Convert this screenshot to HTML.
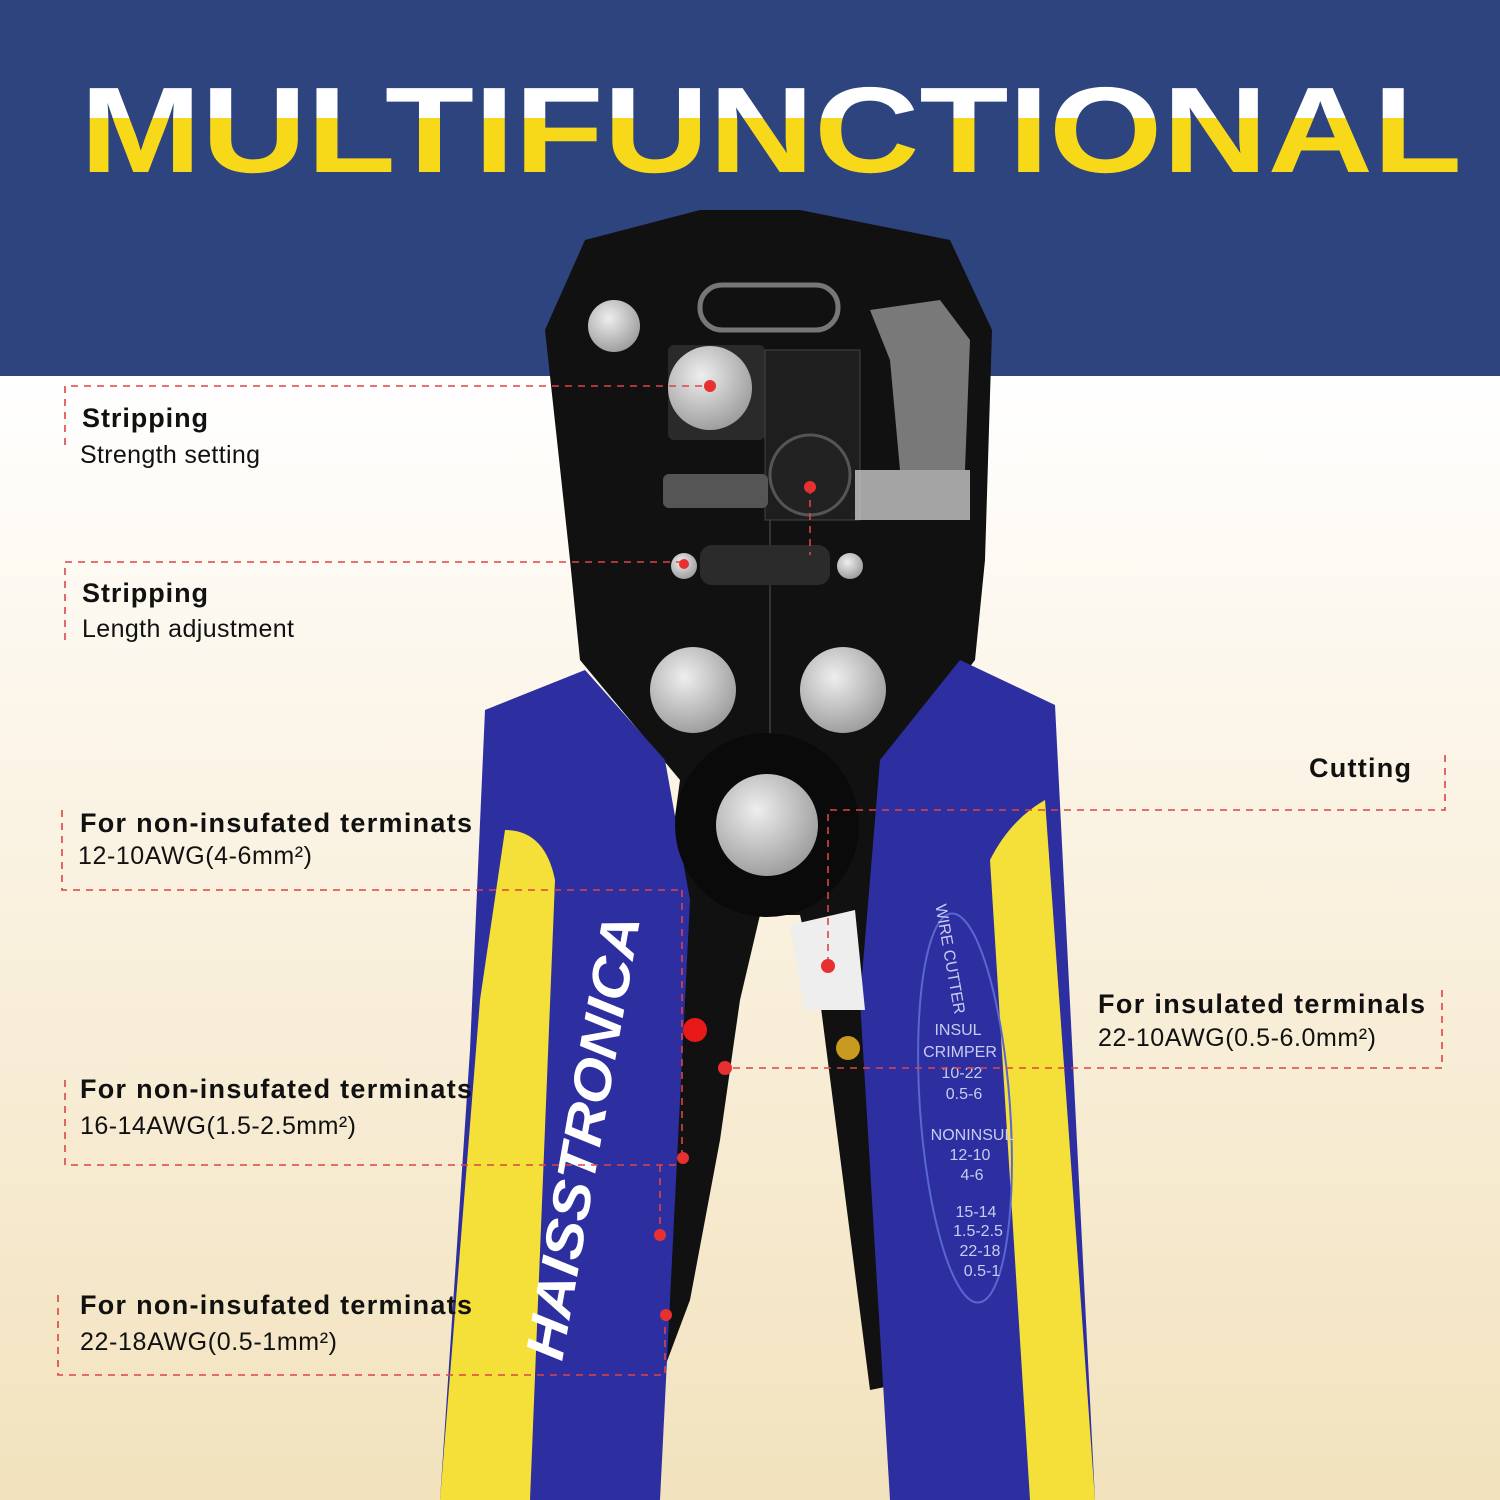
<!DOCTYPE html>
<html><head><meta charset="utf-8"><style>
html,body{margin:0;padding:0;width:1500px;height:1500px;overflow:hidden}
svg{display:block}
text{font-family:"Liberation Sans",sans-serif}
</style></head><body>
<svg width="1500" height="1500" viewBox="0 0 1500 1500" xmlns="http://www.w3.org/2000/svg">
<defs>
<linearGradient id="bg" x1="0" y1="0" x2="0" y2="1">
<stop offset="0" stop-color="#ffffff"/><stop offset="0.35" stop-color="#fbf4e6"/><stop offset="1" stop-color="#f2e2bd"/>
</linearGradient>
<linearGradient id="tt" x1="0" y1="82" x2="0" y2="172" gradientUnits="userSpaceOnUse">
<stop offset="0" stop-color="#ffffff"/><stop offset="0.4" stop-color="#ffffff"/><stop offset="0.4" stop-color="#f7d91a"/><stop offset="1" stop-color="#f7d91a"/>
</linearGradient>
<radialGradient id="met" cx="0.4" cy="0.35" r="0.7"><stop offset="0" stop-color="#eeeeee"/><stop offset="1" stop-color="#9a9a9a"/></radialGradient>
</defs>
<rect x="0" y="375" width="1500" height="1125" fill="url(#bg)"/>
<rect x="0" y="0" width="1500" height="376" fill="#2e447e"/>
<text x="80" y="172" font-size="122" font-weight="900" fill="url(#tt)" textLength="1382" lengthAdjust="spacingAndGlyphs">MULTIFUNCTIONAL</text>

<!-- head -->
<path d="M545,330 L585,240 L700,210 L800,210 L950,240 L992,330 L985,560 L975,660 L900,760 L880,1000 L920,1380 L870,1390 L820,1000 L800,915 L760,915 L740,1000 L720,1140 L690,1300 L660,1380 L650,1000 L680,780 L580,660 L570,560 Z" fill="#111"/>
<line x1="770" y1="520" x2="770" y2="900" stroke="#333" stroke-width="2"/>
<!-- left handle -->
<path d="M485,710 L585,670 L665,760 L690,900 L660,1500 L440,1500 L470,1050 Z" fill="#2d2fa0"/>
<path d="M505,830 Q545,830 555,880 L530,1500 L440,1500 L480,1000 Z" fill="#f5e03a"/>
<!-- right handle -->
<path d="M960,660 L1055,705 L1095,1500 L890,1500 L860,1000 L880,760 Z" fill="#2d2fa0"/>
<path d="M1045,800 L1095,1500 L1030,1500 L990,860 Q1010,820 1045,800 Z" fill="#f5e03a"/>
<ellipse cx="965" cy="1108" rx="45" ry="195" transform="rotate(-4 965 1108)" fill="none" stroke="#5a67d0" stroke-width="2"/>
<text transform="translate(562,1362) rotate(-80)" font-size="54" font-weight="900" font-style="italic" fill="#fff" textLength="450" lengthAdjust="spacingAndGlyphs">HAISSTRONICA</text>
<g font-size="16" fill="#c8ccf0" text-anchor="middle">
<text x="958" y="1035">INSUL</text><text x="960" y="1057">CRIMPER</text><text x="962" y="1078">10-22</text><text x="964" y="1099">0.5-6</text>
<text x="972" y="1140">NONINSUL</text><text x="970" y="1160">12-10</text><text x="972" y="1180">4-6</text>
<text x="976" y="1217">15-14</text><text x="978" y="1236">1.5-2.5</text><text x="980" y="1256">22-18</text><text x="982" y="1276">0.5-1</text>
<text x="945" y="960" transform="rotate(80 945 960)">WIRE CUTTER</text>
</g>
<!-- parts -->
<rect x="700" y="285" width="138" height="45" rx="22" fill="none" stroke="#777" stroke-width="5"/>
<circle cx="614" cy="326" r="26" fill="url(#met)"/>
<rect x="668" y="345" width="97" height="95" rx="6" fill="#2a2a2a"/>
<circle cx="710" cy="388" r="42" fill="url(#met)"/>
<rect x="765" y="350" width="95" height="170" fill="#1e1e1e" stroke="#444"/>
<circle cx="810" cy="475" r="40" fill="#222" stroke="#555" stroke-width="3"/>
<rect x="663" y="474" width="105" height="34" rx="6" fill="#555"/>
<rect x="855" y="470" width="115" height="50" fill="#c9c9c9" opacity="0.8"/>
<path d="M870,310 L940,300 L970,340 L965,470 L900,470 L890,360 Z" fill="#cfcfcf" opacity="0.55"/>
<rect x="700" y="545" width="130" height="40" rx="12" fill="#2b2b2b"/>
<circle cx="684" cy="566" r="13" fill="url(#met)"/><circle cx="850" cy="566" r="13" fill="url(#met)"/>
<circle cx="693" cy="690" r="43" fill="url(#met)"/><circle cx="843" cy="690" r="43" fill="url(#met)"/>
<circle cx="767" cy="825" r="92" fill="#0a0a0a"/>
<circle cx="767" cy="825" r="51" fill="url(#met)"/>
<path d="M790,925 L855,910 L865,1010 L805,1010 Z" fill="#eee"/>
<circle cx="695" cy="1030" r="12" fill="#e81919"/><circle cx="848" cy="1048" r="12" fill="#c99a20"/>
<!-- dashed lines -->
<g stroke="#d44" stroke-width="1.6" stroke-dasharray="7,6" fill="none">
<path d="M65,445 L65,386 L710,386"/>
<path d="M65,640 L65,562 L684,562"/>
<path d="M810,487 L810,555"/>
<path d="M62,810 L62,890 L680,890"/>
<path d="M65,1080 L65,1165 L680,1165"/>
<path d="M58,1295 L58,1375 L665,1375 L665,1315"/>
<path d="M1445,755 L1445,810 L828,810 L828,965"/>
<path d="M1442,990 L1442,1068 L725,1068"/>
<path d="M682,890 L682,1160"/><path d="M660,1165 L660,1235"/>
</g>
<g fill="#e83030">
<circle cx="710" cy="386" r="6"/><circle cx="810" cy="487" r="6"/><circle cx="684" cy="564" r="5"/>
<circle cx="828" cy="966" r="7"/><circle cx="725" cy="1068" r="7"/><circle cx="683" cy="1158" r="6"/>
<circle cx="660" cy="1235" r="6"/><circle cx="666" cy="1315" r="6"/>
</g>
<!-- labels -->
<g font-size="27" fill="#111" lengthAdjust="spacingAndGlyphs">
<text x="82" y="427" font-weight="bold" textLength="126">Stripping</text>
<text x="80" y="463" font-size="25" textLength="180">Strength setting</text>
<text x="82" y="602" font-weight="bold" textLength="126">Stripping</text>
<text x="82" y="637" font-size="25" textLength="212">Length adjustment</text>
<text x="1309" y="777" font-weight="bold" textLength="102">Cutting</text>
<text x="80" y="832" font-weight="bold" textLength="392">For non-insufated terminats</text>
<text x="78" y="864" font-size="25" textLength="234">12-10AWG(4-6mm²)</text>
<text x="1098" y="1013" font-weight="bold" textLength="327">For insulated terminals</text>
<text x="1098" y="1046" font-size="25" textLength="278">22-10AWG(0.5-6.0mm²)</text>
<text x="80" y="1098" font-weight="bold" textLength="392">For non-insufated terminats</text>
<text x="80" y="1134" font-size="25" textLength="276">16-14AWG(1.5-2.5mm²)</text>
<text x="80" y="1314" font-weight="bold" textLength="392">For non-insufated terminats</text>
<text x="80" y="1350" font-size="25" textLength="257">22-18AWG(0.5-1mm²)</text>
</g>
</svg>
</body></html>
